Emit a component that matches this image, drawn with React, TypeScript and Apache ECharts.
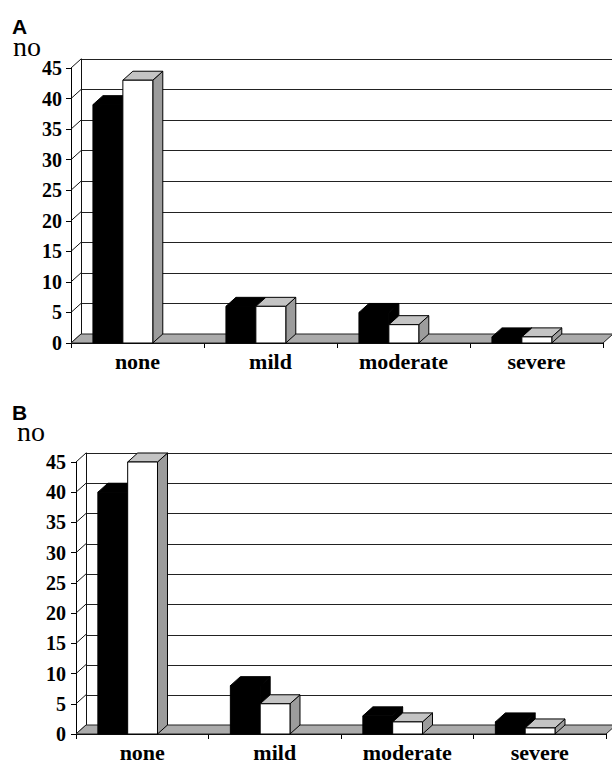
import React, { useEffect, useRef } from 'react';
import * as echarts from 'echarts';

// Severity categories and counts for the two panels (black / white columns)
const categories = ['none', 'mild', 'moderate', 'severe'];
const panelABlack = [39, 6, 5, 1];
const panelAWhite = [43, 6, 3, 1];
const panelBBlack = [40, 8, 3, 2];
const panelBWhite = [45, 5, 2, 1];

// Value axis
const yMin = 0;
const yMax = 45;
const yStep = 5;
const yTickValues = [0, 5, 10, 15, 20, 25, 30, 35, 40, 45];

const panelTitles = ['A', 'B'];
const yAxisName = 'no';

// 3D depth offset of the back wall relative to the front plane
const DX = 10;
const DY = -9;

const SERIF = '"Liberation Serif", "Times New Roman", serif';
const SANS = '"Liberation Sans", Arial, sans-serif';

const panels = [
  {
    front: { left: 71, top: 68, width: 532, height: 275 },
    black: panelABlack,
    white: panelAWhite,
    labelMargin: 9,
    title: { x: 12, y: 26 },
    yName: { x: 13, y: 46 },
  },
  {
    front: { left: 76, top: 462, width: 530, height: 273 },
    black: panelBBlack,
    white: panelBWhite,
    labelMargin: 10,
    title: { x: 12, y: 412.5 },
    yName: { x: 17, y: 431 },
  },
];

const makeBarRender = (slot: number, dark: boolean) => (params: any, api: any) => {
  const ci = api.value(0);
  const v = api.value(1);
  const top = api.coord([ci, v]);
  const base = api.coord([ci, 0]);
  const band = api.size([1, 0])[0];
  const w = band * 0.225;
  const l = top[0] - band * 0.335 + slot * w;
  const r = l + w;
  const yT = top[1];
  const y0 = base[1];
  const frontFill = dark ? '#000' : '#fff';
  const sideFill = dark ? '#000' : '#9c9c9c';
  const topFill = dark ? '#000' : '#c4c4c4';
  const stroke = '#000';
  return {
    type: 'group',
    children: [
      {
        type: 'polygon',
        shape: { points: [[r, yT], [r + DX, yT + DY], [r + DX, y0 + DY], [r, y0]] },
        style: { fill: sideFill, stroke, lineWidth: 1 },
      },
      {
        type: 'polygon',
        shape: { points: [[l, yT], [r, yT], [r + DX, yT + DY], [l + DX, yT + DY]] },
        style: { fill: topFill, stroke, lineWidth: 1 },
      },
      {
        type: 'rect',
        shape: { x: l, y: yT, width: w, height: y0 - yT },
        style: { fill: frontFill, stroke, lineWidth: 1 },
      },
    ],
  };
};

const floorRender = (params: any, api: any) => {
  const band = api.size([1, 0])[0];
  const first = api.coord([0, 0]);
  const last = api.coord([categories.length - 1, 0]);
  const l = first[0] - band / 2;
  const r = last[0] + band / 2;
  const y0 = first[1];
  return {
    type: 'polygon',
    shape: { points: [[l, y0], [r, y0], [r + DX, y0 + DY], [l + DX, y0 + DY]] },
    style: { fill: '#ababab', stroke: '#222', lineWidth: 1 },
  };
};

const wallTickRender = (params: any, api: any) => {
  const band = api.size([1, 0])[0];
  const p = api.coord([0, api.value(1)]);
  const x0 = p[0] - band / 2;
  return {
    type: 'line',
    shape: { x1: x0, y1: p[1], x2: x0 + DX, y2: p[1] + DY },
    style: { stroke: '#111', lineWidth: 1 },
  };
};

function buildOption() {
  const grid: any[] = [];
  const xAxis: any[] = [];
  const yAxis: any[] = [];
  const series: any[] = [];
  const graphic: any[] = [];

  panels.forEach((p, pi) => {
    const f = p.front;
    const fi = pi * 2;
    const bi = pi * 2 + 1;
    grid.push({ left: f.left, top: f.top, width: f.width, height: f.height, containLabel: false });
    grid.push({
      left: f.left + DX,
      top: f.top + DY,
      width: 612 - (f.left + DX),
      height: f.height,
      containLabel: false,
    });

    xAxis.push({
      type: 'category',
      gridIndex: fi,
      data: categories,
      boundaryGap: true,
      axisLine: { show: true, lineStyle: { color: '#000', width: 1 } },
      axisTick: { show: true, length: 5, interval: 0, lineStyle: { color: '#000' } },
      axisLabel: {
        interval: 0,
        margin: 7,
        color: '#000',
        fontFamily: SERIF,
        fontWeight: 'bold',
        fontSize: 22,
      },
      splitLine: { show: false },
    });
    xAxis.push({ type: 'value', gridIndex: bi, min: 0, max: 1, show: false });

    yAxis.push({
      type: 'value',
      gridIndex: fi,
      min: yMin,
      max: yMax,
      interval: yStep,
      axisLine: { show: true, lineStyle: { color: '#000', width: 1 } },
      axisTick: { show: true, length: 5, lineStyle: { color: '#000' } },
      axisLabel: {
        margin: p.labelMargin,
        color: '#000',
        fontFamily: SERIF,
        fontWeight: 'bold',
        fontSize: 20,
      },
      splitLine: { show: false },
    });
    yAxis.push({
      type: 'value',
      gridIndex: bi,
      min: yMin,
      max: yMax,
      interval: yStep,
      axisLine: { show: true, lineStyle: { color: '#111', width: 1 } },
      axisTick: { show: false },
      axisLabel: { show: false },
      splitLine: { show: true, lineStyle: { color: '#222', width: 1 } },
    });

    series.push({
      type: 'custom',
      xAxisIndex: fi,
      yAxisIndex: fi,
      renderItem: wallTickRender,
      data: yTickValues.map((v) => [0, v]),
      silent: true,
      z: 1,
    });
    series.push({
      type: 'custom',
      xAxisIndex: fi,
      yAxisIndex: fi,
      renderItem: floorRender,
      data: [[0, 0]],
      silent: true,
      z: 2,
    });
    series.push({
      type: 'custom',
      xAxisIndex: fi,
      yAxisIndex: fi,
      renderItem: makeBarRender(0, true),
      data: p.black.map((v, i) => [i, v]),
      z: 3,
    });
    series.push({
      type: 'custom',
      xAxisIndex: fi,
      yAxisIndex: fi,
      renderItem: makeBarRender(1, false),
      data: p.white.map((v, i) => [i, v]),
      z: 4,
    });

    graphic.push({
      type: 'text',
      x: p.title.x,
      y: p.title.y,
      style: {
        text: panelTitles[pi],
        fill: '#000',
        font: `bold 21px ${SANS}`,
        lineHeight: 16,
        verticalAlign: 'middle',
      },
    });
    graphic.push({
      type: 'text',
      x: p.yName.x,
      y: p.yName.y,
      style: {
        text: yAxisName,
        fill: '#000',
        font: `28px ${SERIF}`,
        lineHeight: 18,
        verticalAlign: 'middle',
      },
    });
  });

  return {
    animation: false,
    backgroundColor: '#fff',
    grid,
    xAxis,
    yAxis,
    series,
    graphic,
  };
}

export default function App() {
  const ref = useRef<HTMLDivElement>(null);
  useEffect(() => {
    if (!ref.current) return;
    const chart = echarts.init(ref.current, undefined, { renderer: 'svg' });
    chart.setOption(buildOption() as any);
    return () => chart.dispose();
  }, []);
  return (
    <div
      ref={ref}
      style={{ position: 'fixed', left: 0, top: 0, width: 612, height: 763, background: '#fff' }}
    />
  );
}
